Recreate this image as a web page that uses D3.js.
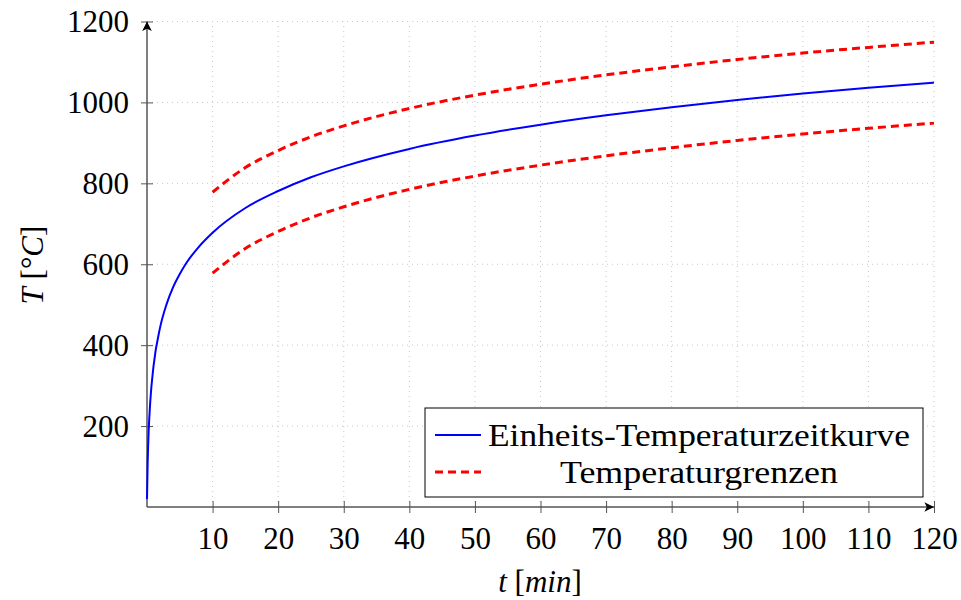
<!DOCTYPE html>
<html>
<head>
<meta charset="utf-8">
<script src="https://cdn.jsdelivr.net/npm/d3@7"></script>
<style>
  body { margin: 0; background: #fff; }
  text { font-family: "Liberation Serif", serif; fill: #000; }
</style>
</head>
<body>
<svg id="chart" width="961" height="600"></svg>
<script>
// standard fire curve
const etkTime = [0, 0.1, 0.25, 0.5, 1, 2, 3, 4, 5, 6, 8, 10, 15, 20, 25, 30, 40, 50, 60, 70, 80, 90, 100, 110, 120];
const etkTemp = [20, 108, 185, 261, 349, 444, 502, 544, 576, 603, 645, 678, 739, 781, 815, 842, 885, 918, 945, 968, 988, 1006, 1022, 1036, 1049];

// limits +/- 100 from 10 min on
const limitTime = [10, 15, 20, 25, 30, 40, 50, 60, 70, 80, 90, 100, 110, 120];
const upperTemp = [778, 839, 881, 915, 942, 985, 1018, 1045, 1068, 1088, 1106, 1122, 1136, 1149];
const lowerTemp = [578, 639, 681, 715, 742, 785, 818, 845, 868, 888, 906, 922, 936, 949];

const xTicks = [10, 20, 30, 40, 50, 60, 70, 80, 90, 100, 110, 120];
const yTicks = [200, 400, 600, 800, 1000, 1200];
const legendLabels = ['Einheits-Temperaturzeitkurve', 'Temperaturgrenzen'];

const svg = d3.select('#chart');

const x = d3.scaleLinear().domain([0, 120]).range([147, 934]);
const y = d3.scaleLinear().domain([0, 1200]).range([507, 21.5]);

// grid
const grid = svg.append('g');
grid.selectAll('.vg').data(xTicks).enter().append('line')
  .attr('x1', d => x(d)).attr('x2', d => x(d))
  .attr('y1', y(0)).attr('y2', y(1200))
  .attr('stroke', '#c8c8c8').attr('stroke-width', 1)
  .attr('stroke-dasharray', '1,4');
grid.selectAll('.hg').data(yTicks).enter().append('line')
  .attr('x1', x(0)).attr('x2', x(120))
  .attr('y1', d => y(d)).attr('y2', d => y(d))
  .attr('stroke', '#c8c8c8').attr('stroke-width', 1)
  .attr('stroke-dasharray', '1,4');

// axes
const axisColor = '#555';
svg.append('defs').append('marker')
  .attr('id', 'arrow').attr('viewBox', '0 0 10 10')
  .attr('refX', 9).attr('refY', 5)
  .attr('markerWidth', 8).attr('markerHeight', 8)
  .attr('orient', 'auto')
  .append('path').attr('d', 'M1,1 L9,5 L1,9 L3,5 Z').attr('fill', '#000');

const xAxis = svg.append('g')
  .attr('transform', `translate(0,${y(0)})`)
  .call(d3.axisBottom(x).tickValues(xTicks).tickFormat(d3.format('d')).tickSize(0).tickPadding(20));
xAxis.select('.domain').remove();
xAxis.selectAll('.tick line').attr('y1', -6).attr('y2', 6).attr('stroke', axisColor);
xAxis.selectAll('.tick text').attr('font-size', 31).attr('font-family', 'Liberation Serif');

const yAxis = svg.append('g')
  .attr('transform', `translate(${x(0)},0)`)
  .call(d3.axisLeft(y).tickValues(yTicks).tickFormat(d3.format('d')).tickSize(0).tickPadding(18));
yAxis.select('.domain').remove();
yAxis.selectAll('.tick line').attr('x1', -6).attr('x2', 6).attr('stroke', axisColor);
yAxis.selectAll('.tick text').attr('font-size', 31).attr('font-family', 'Liberation Serif');

svg.append('line')
  .attr('x1', x(0)).attr('x2', x(120))
  .attr('y1', y(0)).attr('y2', y(0))
  .attr('stroke', axisColor).attr('stroke-width', 1.5)
  .attr('marker-end', 'url(#arrow)');
svg.append('line')
  .attr('x1', x(0)).attr('x2', x(0))
  .attr('y1', y(0)).attr('y2', y(1200))
  .attr('stroke', axisColor).attr('stroke-width', 1.5)
  .attr('marker-end', 'url(#arrow)');

// curves
const line = d3.line().x(d => x(d[0])).y(d => y(d[1])).curve(d3.curveMonotoneX);

svg.append('path')
  .datum(etkTime.map((t, i) => [t, etkTemp[i]]))
  .attr('d', line)
  .attr('fill', 'none').attr('stroke', '#0000ff').attr('stroke-width', 2);

[upperTemp, lowerTemp].forEach(vals => {
  svg.append('path')
    .datum(limitTime.map((t, i) => [t, vals[i]]))
    .attr('d', line)
    .attr('fill', 'none').attr('stroke', '#ff0000').attr('stroke-width', 3)
    .attr('stroke-dasharray', '8,5');
});

// axis labels
svg.append('text')
  .attr('x', 540).attr('y', 592)
  .attr('text-anchor', 'middle').attr('font-size', 31)
  .html('<tspan font-style="italic">t</tspan> [<tspan font-style="italic">min</tspan>]');

svg.append('text')
  .attr('transform', 'translate(43,265) rotate(-90)')
  .attr('text-anchor', 'middle').attr('font-size', 31)
  .html('<tspan font-style="italic">T</tspan> [°<tspan font-style="italic">C</tspan>]');

// legend
const lg = svg.append('g').attr('transform', 'translate(425,408)');
lg.append('rect')
  .attr('width', 498).attr('height', 89)
  .attr('fill', '#fff').attr('stroke', '#000').attr('stroke-width', 1);
lg.append('line')
  .attr('x1', 10).attr('x2', 56).attr('y1', 27).attr('y2', 27)
  .attr('stroke', '#0000ff').attr('stroke-width', 2);
lg.append('line')
  .attr('x1', 10).attr('x2', 56).attr('y1', 64).attr('y2', 64)
  .attr('stroke', '#ff0000').attr('stroke-width', 3)
  .attr('stroke-dasharray', '8,5');
lg.append('text')
  .attr('x', 63).attr('y', 38)
  .attr('font-size', 31)
  .attr('textLength', 422).attr('lengthAdjust', 'spacingAndGlyphs')
  .text(legendLabels[0]);
lg.append('text')
  .attr('x', 135).attr('y', 75)
  .attr('font-size', 31)
  .attr('textLength', 278).attr('lengthAdjust', 'spacingAndGlyphs')
  .text(legendLabels[1]);
</script>
</body>
</html>
